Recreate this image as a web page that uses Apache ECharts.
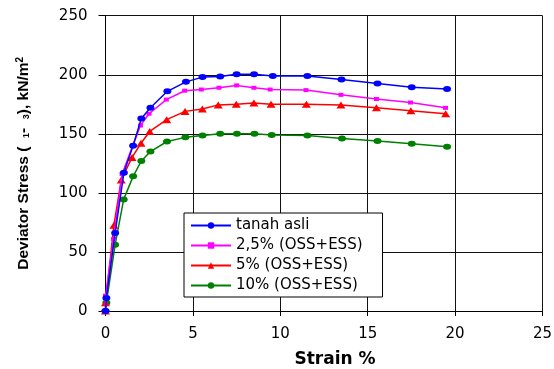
<!DOCTYPE html>
<html>
<head>
<meta charset="utf-8">
<script src="https://cdn.jsdelivr.net/npm/echarts@6/dist/echarts.min.js"></script>
<style>html,body{margin:0;padding:0;background:#fff;}#c{width:554px;height:369px;}</style>
</head>
<body>
<div id="c"></div>
<script>
// ---- data ----
const seriesNames = ['tanah asli', '2,5% (OSS+ESS)', '5% (OSS+ESS)', '10% (OSS+ESS)'];

const strainAsli = [0, 0.05, 0.55, 1.05, 1.58, 2.05, 2.57, 3.54, 4.6, 5.55, 6.56, 7.5, 8.5, 9.57, 11.55, 13.5, 15.56, 17.52, 19.54];
const stressAsli = [0, 11, 66, 117, 140, 163, 172, 186, 194, 198, 198.5, 200.5, 200.5, 199, 199, 196, 192.5, 189.5, 188];

const strain25 = [0, 0, 0.46, 0.95, 1.56, 2.0, 2.49, 3.48, 4.53, 5.48, 6.49, 7.5, 8.49, 9.42, 11.47, 13.47, 15.5, 17.45, 19.45];
const stress25 = [0, 13, 61, 116, 140, 157, 167, 179, 186.5, 187.5, 189, 191, 189, 187.5, 187, 183, 179.5, 176.5, 172];

const strain5 = [0, 0, 0.48, 0.9, 1.52, 2.03, 2.53, 3.5, 4.55, 5.54, 6.45, 7.48, 8.49, 9.47, 11.49, 13.47, 15.5, 17.47, 19.46];
const stress5 = [0, 7, 72.5, 111, 130, 142, 152, 162, 169, 171, 174.5, 175, 176, 175, 175, 174.5, 172, 169.5, 167];

const strain10 = [0, 0.05, 0.55, 1.04, 1.58, 2.05, 2.57, 3.52, 4.57, 5.55, 6.56, 7.52, 8.52, 9.51, 11.55, 13.53, 15.56, 17.52, 19.54];
const stress10 = [0, 7, 56, 94.5, 114, 127, 135, 143.5, 147, 148.5, 150, 150, 150, 149, 148.5, 146, 144, 141.5, 139];

const xTicks = [0, 5, 10, 15, 20, 25];
const yTicks = [0, 50, 100, 150, 200, 250];

// ---- build ----
function pairs(xs, ys) { return xs.map((x, i) => [x, ys[i]]); }
const ellipse = 'path://M0,1A1,1 0 1,1 2,1A1,1 0 1,1 0,1Z';

const chart = echarts.init(document.getElementById('c'), null, { renderer: 'canvas' });
const tickFont = { fontFamily: 'DejaVu Sans', fontSize: 15, color: '#000' };

const styles = [
  { color: '#0000FF', symbol: ellipse, size: [8, 6] },
  { color: '#FF00FF', symbol: 'rect', size: [5, 4] },
  { color: '#FF0000', symbol: 'triangle', size: [9, 7] },
  { color: '#008000', symbol: ellipse, size: [8, 6] }
];
const dataSets = [pairs(strainAsli, stressAsli), pairs(strain25, stress25), pairs(strain5, stress5), pairs(strain10, stress10)];

chart.setOption({
  animation: false,
  backgroundColor: '#fff',
  grid: { left: 105.5, right: 11.5, top: 15.7, bottom: 58, containLabel: false, outerBoundsMode: 'none' },
  xAxis: {
    type: 'value', min: xTicks[0], max: xTicks[xTicks.length - 1], interval: 5,
    name: 'Strain %', nameLocation: 'middle', nameGap: 40,
    nameTextStyle: { fontFamily: 'DejaVu Sans', fontWeight: 'bold', fontSize: 17, color: '#000', padding: [0, 0, 0, 22] },
    axisLine: { show: true, onZero: false, lineStyle: { color: '#000', width: 1 } },
    axisTick: { show: true, inside: false, length: 5, lineStyle: { color: '#000' } },
    axisLabel: Object.assign({ margin: 16 }, tickFont),
    splitLine: { show: true, lineStyle: { color: '#111', width: 1 } }
  },
  yAxis: {
    type: 'value', min: yTicks[0], max: yTicks[yTicks.length - 1], interval: 50,
    name: 'Deviator Stress (  {sub|1}-  {sub|3}), kN/m{sup|2}', nameLocation: 'middle', nameGap: 74,
    nameRotate: 90,
    nameTextStyle: {
      fontFamily: 'Liberation Sans', fontWeight: 'bold', fontSize: 15.5, color: '#000',
      rich: {
        sub: { fontFamily: 'Liberation Sans', fontSize: 9, color: '#000', verticalAlign: 'bottom', padding: [6, 0, 0, 0] },
        sup: { fontFamily: 'Liberation Sans', fontWeight: 'bold', fontSize: 10, color: '#000', verticalAlign: 'top', padding: [0, 0, 6, 0] }
      }
    },
    axisLine: { show: true, onZero: false, lineStyle: { color: '#000', width: 1 } },
    axisTick: { show: true, inside: false, length: 7, lineStyle: { color: '#000' } },
    axisLabel: Object.assign({ margin: 18 }, tickFont),
    splitLine: { show: true, lineStyle: { color: '#111', width: 1 } }
  },
  legend: {
    orient: 'vertical', left: 184, top: 213,
    backgroundColor: '#fff', borderColor: '#000', borderWidth: 1,
    padding: [5, 20, 4, 6],
    itemWidth: 40, itemHeight: 8, itemGap: 5,
    textStyle: { fontFamily: 'DejaVu Sans', fontSize: 15, color: '#000', lineHeight: 14 },
    data: seriesNames
  },
  series: seriesNames.map((n, i) => ({
    name: n, type: 'line', data: dataSets[i],
    symbol: styles[i].symbol, symbolSize: styles[i].size, showAllSymbol: true,
    lineStyle: { color: styles[i].color, width: 1.5 },
    itemStyle: { color: styles[i].color },
    z: 10 - i
  }))
});
</script>
</body>
</html>
